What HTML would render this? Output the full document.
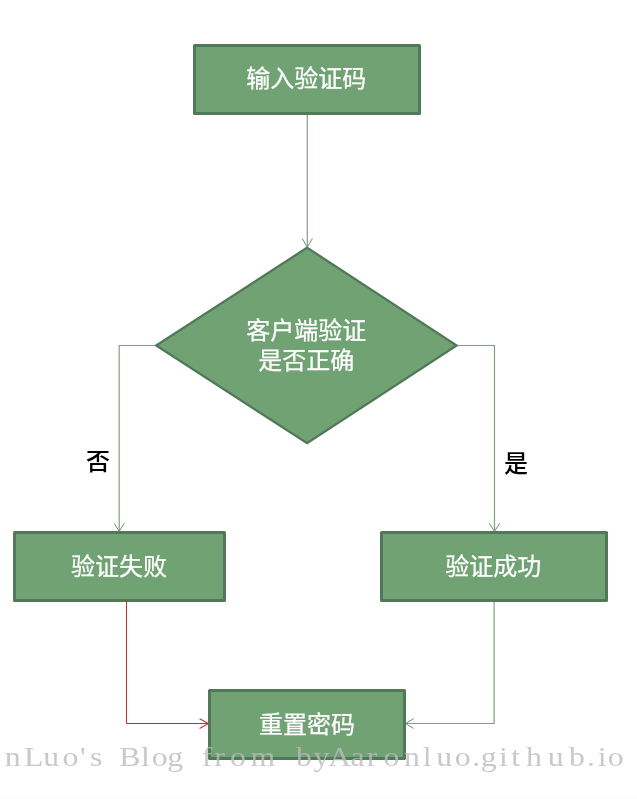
<!DOCTYPE html>
<html lang="zh-CN">
<head>
<meta charset="utf-8">
<title>重置密码流程</title>
<style>
html,body{margin:0;padding:0;background:#fff;}
body{width:637px;height:799px;overflow:hidden;position:relative;}
svg{position:absolute;left:0;top:0;display:block;}
#labels{will-change:transform;}
.cjk{font-family:"Liberation Sans","Noto Sans CJK SC",sans-serif;font-size:24px;}
.w{fill:#fff;stroke:#fff;stroke-width:.25;}
.k{fill:#000;font-weight:500;}
.wm{font-family:"Liberation Serif",serif;font-size:26.5px;fill:#bcbcbc;fill-opacity:.8;}
.box{fill:#71a274;stroke:#517959;stroke-width:3;stroke-linejoin:round;}
.dia{fill:#71a274;stroke:#517959;stroke-width:2.3;stroke-linejoin:miter;}
.ln{fill:none;stroke:#80a085;stroke-width:1.2;}
.ah{fill:none;stroke:#6c8b71;stroke-width:1;}
.rd{fill:none;stroke:#c22d2d;stroke-width:1;}
.rh{fill:none;stroke:#cf2e2e;stroke-width:1.1;}
</style>
</head>
<body>
<svg id="shapes" width="637" height="799" viewBox="0 0 637 799">
  <!-- shapes -->
  <rect class="box" x="194.5" y="45.5" width="225" height="68"/>
  <polygon class="dia" points="307.1,247.7 456.6,345.5 307.1,443.1 156.2,345.5"/>
  <rect class="box" x="14.5" y="532.5" width="210" height="68"/>
  <rect class="box" x="381.5" y="532.5" width="225" height="68"/>
  <rect class="box" x="209.5" y="690.5" width="195" height="68"/>
  <!-- connectors -->
  <path class="ln" d="M307.3 115V247"/>
  <path class="ah" d="M302.2 238.5L307.3 247.2L312.4 238.5"/>
  <path class="ln" d="M155 345.5H119.2V531"/>
  <path class="ah" d="M114.2 523.4L119.2 531.3L124.2 523.4"/>
  <path class="ln" d="M458 345.5H494.5V531"/>
  <path class="ah" d="M489.3 523.4L494.5 531.3L499.7 523.4"/>
  <path class="ln" d="M494.1 602V723.5H406"/>
  <path class="ah" d="M413.6 718.6L405.6 723.5L413.6 728.4"/>
  <path class="rd" d="M126.5 600.5V723.5H208"/>
  <path class="rh" d="M199.6 718.7L208.4 723.5L199.6 728.4"/>

  <rect x="0" y="795" width="637" height="4" fill="#fdfdfd"/>
</svg>
<svg id="labels" width="637" height="799" viewBox="0 0 637 799">
  <text class="cjk w" x="306.3" y="87.3" text-anchor="middle">输入验证码</text>
  <text class="cjk w" x="306.2" y="339.2" text-anchor="middle">客户端验证</text>
  <text class="cjk w" x="306.2" y="368.8" text-anchor="middle">是否正确</text>
  <text class="cjk w" x="119" y="574.5" text-anchor="middle">验证失败</text>
  <text class="cjk w" x="493.3" y="574.7" text-anchor="middle">验证成功</text>
  <text class="cjk w" x="307" y="732.8" text-anchor="middle">重置密码</text>
  <text class="cjk k" x="97.9" y="470" text-anchor="middle">否</text>
  <text class="cjk k" x="516" y="472" text-anchor="middle">是</text>
  <g transform="translate(0,765.6) scale(1.2,1)"><text class="wm" y="0" x="4.06 19.99 36.01 52.08 66.78 74.95 86.26 99.30 117.53 126.38 139.39 153.64 168.14 178.61 191.71 208.71 230.32 246.75 261.27 273.65 292.17 305.69 319.62 336.73 352.32 363.59 378.96 393.52 400.60 415.92 426.10 438.42 456.51 474.25 489.10 498.13 506.42">nLuo's Blog from byAaronluo.github.io</text></g>
</svg>
</body>
</html>
